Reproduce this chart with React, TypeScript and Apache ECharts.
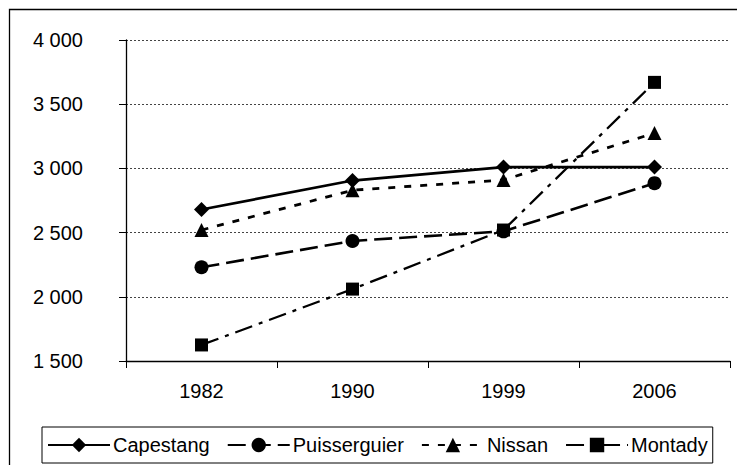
import React, { useEffect, useRef } from "react";
import * as echarts from "echarts";

const years = ["1982", "1990", "1999", "2006"];
const capestang = [2680, 2905, 3010, 3010];
const puisserguier = [2230, 2435, 2510, 2885];
const nissan = [2520, 2830, 2910, 3275];
const montady = [1625, 2060, 2520, 3670];

const FONT = "'Liberation Sans', Arial, sans-serif";

const fmt = (v: number) => {
  const s = String(Math.round(v));
  return s.replace(/\B(?=(\d{3})+(?!\d))/g, " ");
};

export default function App() {
  const ref = useRef<HTMLDivElement>(null);
  useEffect(() => {
    if (!ref.current) return;
    const chart = echarts.init(ref.current, null, { renderer: "svg" });
    const mk = (
      name: string,
      data: number[],
      symbol: string,
      symbolSize: number,
      type: any,
      width: number
    ) => ({
      name,
      type: "line",
      data,
      symbol,
      symbolSize,
      showSymbol: true,
      itemStyle: { color: "#000", borderWidth: 0 },
      lineStyle: { color: "#000", width, type },
      emphasis: { disabled: true },
    });
    chart.setOption({
      animation: false,
      backgroundColor: "#fff",
      textStyle: { fontFamily: FONT },
      graphic: [
        {
          type: "rect",
          shape: { x: 9.5, y: 9.5, width: 740, height: 470 },
          style: { fill: "none", stroke: "#000", lineWidth: 1.3 },
          silent: true,
        },
      ],
      grid: { left: 126, right: 7, top: 40, bottom: 104, containLabel: false },
      legend: {
        left: 42,
        top: 427,
        orient: "horizontal",
        itemWidth: 62,
        itemHeight: 18,
        itemGap: 17,
        padding: [8, 5],
        borderColor: "#000",
        borderWidth: 1,
        textStyle: { fontFamily: FONT, fontSize: 20, color: "#000", padding: [0, 0, 0, -2] },
        data: ["Capestang", "Puisserguier", "Nissan", "Montady"],
      },
      xAxis: {
        type: "category",
        data: years,
        boundaryGap: true,
        axisLine: { show: true, lineStyle: { color: "#000", width: 1.3 } },
        axisTick: { show: true, length: 7, inside: false, lineStyle: { color: "#000" } },
        axisLabel: { fontFamily: FONT, fontSize: 20, color: "#000", margin: 20 },
        splitLine: { show: false },
      },
      yAxis: {
        type: "value",
        min: 1500,
        max: 4000,
        interval: 500,
        axisLine: { show: true, lineStyle: { color: "#000", width: 1.3 } },
        axisTick: { show: true, length: 7, inside: false, lineStyle: { color: "#000" } },
        axisLabel: { fontFamily: FONT, fontSize: 20, color: "#000", margin: 43, formatter: fmt },
        splitLine: { show: true, lineStyle: { color: "#444", width: 1, type: [2, 2] } },
      },
      series: [
        mk("Capestang", capestang, "diamond", 15, "solid", 2.6),
        mk("Puisserguier", puisserguier, "circle", 14, [18, 7], 2.6),
        mk("Nissan", nissan, "triangle", 14, [7, 9], 2.8),
        mk("Montady", montady, "rect", 13, [18, 7, 4, 7], 2.3),
      ],
    });
    return () => chart.dispose();
  }, []);
  return (
    <div
      ref={ref}
      style={{ position: "fixed", left: 0, top: 0, width: 737, height: 465 }}
    />
  );
}
